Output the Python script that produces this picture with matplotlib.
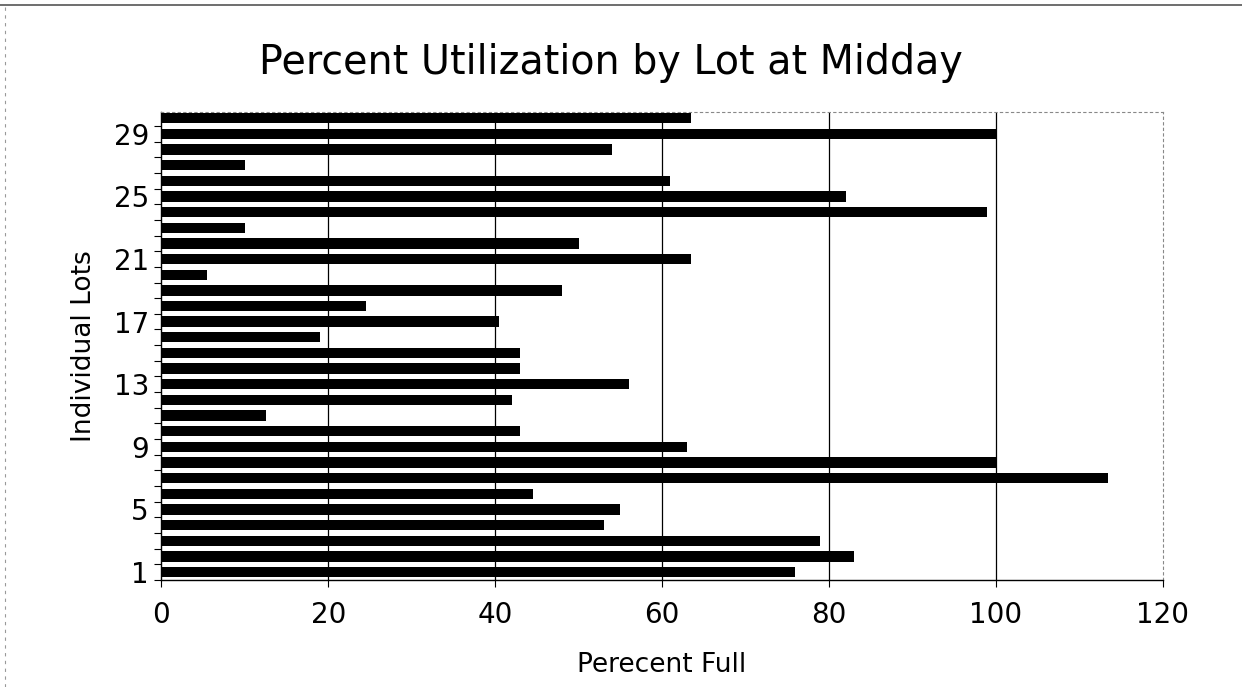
import matplotlib
matplotlib.use("Agg")
import matplotlib.pyplot as plt
from matplotlib.lines import Line2D

lots = list(range(1, 31))
percent_full = [76, 83, 79, 53, 55, 44.5, 113.5, 100, 63, 43,
                12.5, 42, 56, 43, 43, 19, 40.5, 24.5, 48, 5.5,
                63.5, 50, 10, 99, 82, 61, 10, 54, 100, 63.5]
ytick_labels = [1, 5, 9, 13, 17, 21, 25, 29]
xticks = [0, 20, 40, 60, 80, 100, 120]

plt.rcParams['font.family'] = ['DejaVu Sans']

fig = plt.figure(figsize=(12.42, 6.87), dpi=100)
ax = fig.add_axes([0.130, 0.156, 0.806, 0.681])

ax.barh(lots, percent_full, height=0.66, color='black', zorder=3)

ax.set_xlim(0, 120)
ax.set_ylim(0.5, 30.4)

for g in [20, 40, 60, 80, 100]:
    ax.axvline(g, color='black', lw=0.9, zorder=1)

ax.set_xticks(xticks)
ax.set_xticklabels([str(t) for t in xticks], fontsize=20)
ax.set_yticks(ytick_labels)
ax.set_yticklabels([str(t) for t in ytick_labels], fontsize=20)
ax.set_yticks([k + 0.5 for k in range(0, 30)], minor=True)
ax.tick_params(axis='y', which='major', length=0, pad=9)
ax.tick_params(axis='y', which='minor', length=5, width=0.8, direction='out')
ax.tick_params(axis='x', which='major', length=5, width=0.8, direction='out', pad=10)

for side in ['left', 'bottom']:
    ax.spines[side].set_linewidth(1.0)
    ax.spines[side].set_color('black')
for side in ['top', 'right']:
    ax.spines[side].set_linewidth(0.8)
    ax.spines[side].set_color('#888888')
    ax.spines[side].set_linestyle((0, (2, 3)))

ax.set_xlabel('Perecent Full', fontsize=19, labelpad=17)
ax.set_ylabel('Individual Lots', fontsize=19, labelpad=12)

fig.text(0.492, 0.908, 'Percent Utilization by Lot at Midday', fontsize=28.5,
         ha='center', va='center')

fig.add_artist(Line2D([0, 1], [0.992, 0.992], transform=fig.transFigure,
                      color='#555555', lw=1.2))
fig.add_artist(Line2D([0.004, 0.004], [0, 0.992], transform=fig.transFigure,
                      color='#999999', lw=0.8, linestyle=(0, (3, 4))))

fig.savefig('out.png', dpi=100)
